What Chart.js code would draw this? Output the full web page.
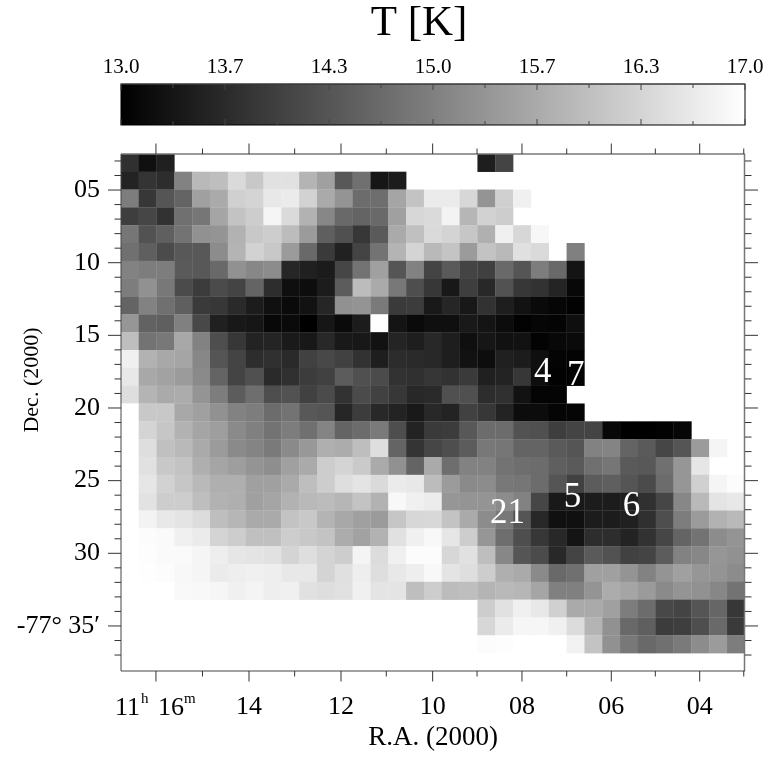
<!DOCTYPE html>
<html>
<head>
<meta charset="utf-8">
<script src="https://cdn.jsdelivr.net/npm/chart.js@4"></script>
<style>
  html, body { margin: 0; background: #fff; }
  canvas { position: absolute; left: 0; top: 0; }
</style>
</head>
<body>
<canvas id="map" width="767" height="757"></canvas>
<canvas id="cbar" width="767" height="135"></canvas>
<script>
const _ = null;
// temperature per cell in K, top row first, columns run left to right
const row00 = [13.75,13.25,13.50,_,_,_,_,_,_,_,_,_,_,_,_,_,_,_,_,_,13.47,14.07];
const row01 = [13.55,13.82,13.71,15.04,15.90,15.98,16.42,16.14,16.53,16.53,15.82,15.51,14.38,14.76,13.35,13.44];
const row02 = [14.96,13.86,14.33,14.57,15.51,15.67,16.26,16.33,16.64,16.69,16.29,15.67,15.32,14.69,14.73,15.59,16.06,16.69,16.69,16.37,15.32,16.26,16.76];
const row03 = [13.97,14.10,13.78,14.76,14.85,15.59,16.06,16.22,16.84,16.42,15.79,15.12,14.65,14.57,14.65,15.51,16.37,16.42,16.81,15.85,16.29,16.22];
const row04 = [14.85,14.29,14.49,14.80,15.27,15.32,15.79,16.14,16.22,15.95,15.43,14.49,14.25,13.86,14.41,15.67,16.01,16.42,16.33,16.11,15.76,16.76,16.37,16.87];
const row05 = [14.76,14.49,14.18,14.38,14.38,15.20,15.82,16.29,16.14,15.43,14.65,13.91,13.52,14.07,14.80,15.82,16.33,15.90,16.07,15.43,16.06,15.90,16.51,16.42,_,15.01];
const row06 = [15.04,14.96,14.96,14.41,14.38,14.65,15.27,15.12,15.20,13.60,13.50,13.42,14.10,14.80,15.51,14.33,15.04,14.07,14.41,14.07,14.00,14.65,14.33,14.96,14.65,13.31];
const row07 = [14.96,15.27,14.88,14.18,13.94,14.18,14.07,14.57,13.71,13.24,13.20,13.44,14.44,15.95,15.67,14.88,14.22,13.86,13.38,13.97,13.63,14.29,13.86,13.78,13.56,13.13];
const row08 = [14.57,15.04,14.76,14.49,13.91,13.86,13.66,13.44,13.25,13.16,13.28,13.60,15.27,15.32,14.91,13.91,13.94,13.39,13.60,13.38,13.78,13.47,13.28,13.16,13.09,13.03];
const row09 = [15.35,14.54,14.49,15.01,14.13,13.50,13.38,13.35,13.13,13.16,13.00,13.35,13.16,13.44,17.00,13.31,13.16,13.24,13.24,13.39,13.31,13.19,13.03,13.09,13.06,13.24];
const row10 = [15.98,14.80,14.88,15.64,15.04,14.22,13.86,13.55,13.56,13.41,13.38,13.63,13.39,13.38,13.28,13.56,13.47,13.63,13.47,13.24,13.35,13.27,13.28,13.05,13.13,13.16];
const row11 = [16.76,15.79,15.64,15.59,15.12,14.33,14.07,13.71,13.75,13.66,14.02,14.13,14.02,13.78,13.47,13.69,13.66,13.63,13.47,13.28,13.20,13.50,13.44,13.24,13.06,13.05];
const row12 = [16.64,15.64,15.54,15.43,15.16,14.57,14.07,14.25,13.66,13.75,13.94,14.02,14.44,14.25,14.18,13.78,13.75,13.85,13.78,13.91,13.50,13.55,13.86,13.22,13.03,13.03];
const row13 = [16.48,15.82,15.67,15.70,15.32,14.96,14.44,14.73,14.22,14.29,14.02,14.18,13.78,14.18,14.02,13.86,13.63,13.66,14.25,14.25,13.71,13.75,13.28,13.06,13.06];
const row14 = [17.00,16.14,16.14,15.64,15.51,15.27,15.04,14.96,14.69,14.80,14.38,14.33,13.60,13.94,13.63,13.55,13.39,13.63,13.55,14.02,13.86,13.55,13.19,13.19,13.08,13.08];
const row15 = [17.00,16.33,16.11,15.79,15.59,15.48,15.16,15.01,14.80,14.96,14.76,15.07,14.57,14.69,14.91,14.22,13.55,13.91,13.94,14.38,14.69,14.69,14.29,14.25,13.97,14.07,14.07,13.13,13.00,13.00,13.03,13.09];
const row16 = [17.00,16.48,16.01,15.90,15.67,15.43,15.16,15.07,14.91,15.16,15.38,15.75,15.70,15.98,16.48,14.57,13.82,14.10,14.22,14.44,14.88,14.85,14.57,14.57,14.41,14.33,15.04,15.07,14.57,14.41,14.10,14.33,15.43,16.84];
const row17 = [17.00,16.53,16.14,16.06,15.75,15.59,15.48,15.32,15.23,15.51,15.67,16.22,16.33,16.17,15.67,15.27,14.57,15.67,14.73,15.04,15.04,14.80,14.73,14.69,14.49,14.41,14.76,14.85,14.41,14.38,14.76,15.35,16.61];
const row18 = [17.00,16.61,16.29,16.11,15.90,15.75,15.75,15.51,15.51,15.67,15.98,16.22,16.48,16.58,16.42,16.69,16.64,15.95,15.43,15.16,15.20,14.88,14.85,14.69,14.33,14.02,14.44,14.49,14.33,14.18,14.69,15.35,16.26,16.84,16.95];
const row19 = [17.00,16.55,16.22,16.22,15.98,15.79,15.75,15.51,15.59,15.79,15.90,15.95,15.85,16.06,15.79,16.89,16.76,16.70,15.35,15.32,15.32,15.20,15.04,14.10,13.39,13.39,13.44,13.44,13.47,13.75,14.10,15.12,15.90,16.58,16.64];
const row20 = [17.00,16.81,16.64,16.58,16.45,15.98,15.85,15.67,15.67,16.06,16.14,15.82,15.64,15.51,15.43,16.11,16.37,16.39,16.06,15.67,15.20,14.88,14.33,13.63,13.25,13.25,13.44,13.44,13.50,13.75,14.22,14.96,15.43,15.79,15.90];
const row21 = [17.00,16.95,16.92,16.76,16.69,16.33,16.22,16.01,16.01,16.22,16.14,16.06,15.70,15.54,15.79,16.53,16.76,16.89,16.61,16.22,15.35,14.73,14.22,13.86,13.63,13.31,13.71,13.71,13.55,13.78,14.10,14.57,14.80,15.20,15.32];
const row22 = [17.00,16.97,16.92,16.92,16.84,16.73,16.61,16.58,16.53,16.33,16.48,16.33,16.22,16.83,16.45,16.76,16.95,16.95,16.37,16.53,15.98,15.12,14.33,14.18,13.63,14.07,14.41,14.29,14.02,14.07,14.44,15.04,15.12,15.35,15.27];
const row23 = [17.00,16.98,16.95,16.89,16.84,16.69,16.73,16.76,16.73,16.64,16.64,16.33,16.51,16.73,16.48,16.64,16.73,16.89,16.58,16.48,16.22,15.75,15.67,15.16,14.65,14.76,15.51,15.51,15.32,15.04,15.32,15.51,15.35,15.32,15.20];
const row24 = [17.00,17.00,17.00,16.91,16.89,16.86,16.76,16.83,16.73,16.76,16.53,16.48,16.53,16.76,16.58,16.58,15.98,16.22,15.95,15.98,15.82,15.90,15.85,15.59,15.01,15.01,15.32,15.70,15.59,15.43,15.16,15.32,15.27,15.12,14.80];
const row25 = [_,_,_,_,_,_,_,_,_,_,_,_,_,_,_,_,_,_,_,_,16.22,16.53,16.76,16.64,16.26,15.67,15.67,15.51,14.96,14.69,14.13,14.07,14.33,14.60,13.86];
const row26 = [_,_,_,_,_,_,_,_,_,_,_,_,_,_,_,_,_,_,_,_,16.37,16.69,16.86,16.86,16.76,16.45,15.82,15.27,14.65,14.49,13.94,13.97,14.22,14.65,13.91];
const row27 = [_,_,_,_,_,_,_,_,_,_,_,_,_,_,_,_,_,_,_,_,16.95,16.97,17.00,17.00,17.00,16.80,16.06,15.27,14.88,14.65,14.76,14.91,15.20,15.43,14.96];
const rows = [row00,row01,row02,row03,row04,row05,row06,row07,row08,row09,row10,row11,row12,row13,row14,row15,row16,row17,row18,row19,row20,row21,row22,row23,row24,row25,row26,row27];

// axis ticks. RA is slightly non linear on the sky so ticks sit in column units
const raMajorCols = [1.96, 7.18, 12.34, 17.48, 22.49, 27.50, 32.46];
const raMinorCols = [4.57, 9.74, 14.88, 19.97, 25.00, 29.97, 34.93];
const raLabels = ['', '14', '12', '10', '08', '06', '04'];
const decMajor = [5, 10, 15, 20, 25, 30, 35];
const decLabels = ['05', '10', '15', '20', '25', '30', '-77° 35′'];
const decMinor = [3, 4, 6, 7, 8, 9, 11, 12, 13, 14, 16, 17, 18, 19, 21, 22, 23, 24, 26, 27, 28, 29, 31, 32, 33, 34, 36, 37];
const cbarMajor = [13, 13 + 2 / 3, 14 + 1 / 3, 15, 15 + 2 / 3, 16 + 1 / 3, 17];
const cbarLabels = ['13.0', '13.7', '14.3', '15.0', '15.7', '16.3', '17.0'];
const cbarMinor = [13 + 1 / 3, 14, 14 + 2 / 3, 15 + 1 / 3, 16, 16 + 2 / 3];
// source numbers written on the map: label, column, dec
const srcLabels = ['4', '7', '21', '5', '6'];
const srcCols = [23.65, 25.5, 21.68, 25.32, 28.63];
const srcDecs = [17.6, 17.8, 27.3, 26.2, 26.8];

const DEC_TOP = 2.52, DEC_BOTTOM = 38.1, DEC_PER_ROW = 1.2271;
const serif = '"Liberation Serif"';

function shade(t) {
  const g = Math.round((t - 13) / 4 * 255);
  return 'rgb(' + g + ',' + g + ',' + g + ')';
}

const cells = [];
rows.forEach(function (row, r) {
  row.forEach(function (t, c) {
    if (t !== null) cells.push({ x: c + 0.5, y: DEC_TOP + (r + 0.5) * DEC_PER_ROW, t: t });
  });
});

function tick(ctx, x1, y1, x2, y2) {
  ctx.beginPath();
  ctx.moveTo(x1, y1);
  ctx.lineTo(x2, y2);
  ctx.stroke();
}

const mapFrame = {
  id: 'mapFrame',
  afterDraw(chart) {
    const ctx = chart.ctx, a = chart.chartArea, sx = chart.scales.x, sy = chart.scales.y;
    ctx.save();
    // spines
    ctx.strokeStyle = '#777';
    ctx.lineWidth = 1.5;
    tick(ctx, a.left, a.top, a.right, a.top);
    tick(ctx, a.right - 0.5, a.top, a.right - 0.5, a.bottom);
    ctx.strokeStyle = '#444';
    ctx.lineWidth = 1;
    tick(ctx, a.left, a.top, a.left, a.bottom);
    tick(ctx, a.left, a.bottom, a.right, a.bottom);
    // ticks on all four sides
    ctx.strokeStyle = '#333';
    function xTicks(list, len) {
      list.forEach(function (v) {
        const p = sx.getPixelForValue(v);
        tick(ctx, p, a.top, p, a.top - len);
        tick(ctx, p, a.bottom, p, a.bottom + len);
      });
    }
    function yTicks(list, len) {
      list.forEach(function (v) {
        const p = sy.getPixelForValue(v);
        tick(ctx, a.left, p, a.left - len, p);
        tick(ctx, a.right, p, a.right + len, p);
      });
    }
    xTicks(raMajorCols, 10.5);
    xTicks(raMinorCols, 5.5);
    yTicks(decMajor, 13);
    yTicks(decMinor, 6.5);
    // numbers on the map
    ctx.fillStyle = '#fff';
    ctx.font = '35px ' + serif;
    ctx.textAlign = 'center';
    ctx.textBaseline = 'middle';
    srcLabels.forEach(function (s, i) {
      ctx.fillText(s, sx.getPixelForValue(srcCols[i]), sy.getPixelForValue(srcDecs[i]));
    });
    // first RA label has superscripts
    ctx.fillStyle = '#000';
    ctx.textAlign = 'left';
    ctx.textBaseline = 'alphabetic';
    ctx.font = '26px ' + serif;
    ctx.fillText('11', 115, 715);
    ctx.fillText('16', 158, 715);
    ctx.font = '15px ' + serif;
    ctx.fillText('h', 141, 703);
    ctx.fillText('m', 184, 703);
    // axis titles
    ctx.font = '27px ' + serif;
    ctx.textAlign = 'center';
    ctx.fillText('R.A. (2000)', 433, 745);
    ctx.translate(38, 380);
    ctx.rotate(-Math.PI / 2);
    ctx.font = '22px ' + serif;
    ctx.fillText('Dec. (2000)', 0, 0);
    ctx.restore();
  }
};

new Chart('map', {
  type: 'scatter',
  data: {
    datasets: [{
      data: cells,
      pointStyle: 'rect',
      borderWidth: 0,
      pointBorderWidth: 0,
      pointRadius: function (c) {
        const sx = c.chart.scales.x;
        return (sx.getPixelForValue(1) - sx.getPixelForValue(0)) / Math.SQRT2 + 0.2;
      },
      backgroundColor: function (c) { return c.raw ? shade(c.raw.t) : '#000'; }
    }]
  },
  plugins: [mapFrame],
  options: {
    responsive: false,
    animation: false,
    layout: { padding: { left: 0, right: 22, top: 154, bottom: 0 } },
    plugins: { legend: { display: false }, tooltip: { enabled: false } },
    scales: {
      x: {
        type: 'linear', min: 0, max: 35,
        afterFit: function (s) { s.height = 86; },
        afterBuildTicks: function (s) { s.ticks = raMajorCols.map(function (v) { return { value: v }; }); },
        grid: { display: false }, border: { display: false },
        ticks: {
          autoSkip: false, maxRotation: 0, padding: 13, color: '#000',
          font: { family: serif, size: 26 },
          callback: function (v, i) { return raLabels[i]; }
        }
      },
      y: {
        type: 'linear', reverse: true, min: DEC_TOP, max: DEC_BOTTOM,
        afterFit: function (s) { s.width = 121; },
        afterBuildTicks: function (s) { s.ticks = decMajor.map(function (v) { return { value: v }; }); },
        grid: { display: false }, border: { display: false },
        ticks: {
          autoSkip: false, padding: 13, color: '#000',
          font: { family: serif, size: 26 },
          callback: function (v, i) { return decLabels[i]; }
        }
      }
    }
  }
});

const cbarFrame = {
  id: 'cbarFrame',
  afterDraw(chart) {
    const ctx = chart.ctx, a = chart.chartArea, sx = chart.scales.x;
    ctx.save();
    ctx.strokeStyle = '#000';
    ctx.lineWidth = 1;
    ctx.strokeRect(a.left, a.top, a.right - a.left, a.bottom - a.top);
    ctx.strokeStyle = '#555';
    tick(ctx, a.left, a.top, a.right, a.top);
    function ticks(list, len) {
      list.forEach(function (v) {
        const p = sx.getPixelForValue(v);
        tick(ctx, p, a.top, p, a.top + len);
        tick(ctx, p, a.bottom, p, a.bottom - len);
      });
    }
    ctx.strokeStyle = '#444';
    ticks(cbarMajor, 6);
    ticks(cbarMinor, 4);
    ctx.fillStyle = '#000';
    ctx.font = '43px ' + serif;
    ctx.textAlign = 'center';
    ctx.textBaseline = 'alphabetic';
    ctx.fillText('T [K]', 419, 34.5);
    ctx.restore();
  }
};

const cbar_ctx = document.getElementById('cbar').getContext('2d');
const cbar_fill = cbar_ctx.createLinearGradient(121, 0, 745, 0);
cbar_fill.addColorStop(0, '#000');
cbar_fill.addColorStop(1, '#fff');

new Chart('cbar', {
  type: 'bar',
  data: {
    labels: [''],
    datasets: [{
      data: [[13, 17]],
      backgroundColor: cbar_fill,
      barPercentage: 1,
      categoryPercentage: 1
    }]
  },
  plugins: [cbarFrame],
  options: {
    indexAxis: 'y',
    responsive: false,
    animation: false,
    layout: { padding: { left: 121, right: 22, top: 0, bottom: 10 } },
    plugins: { legend: { display: false }, tooltip: { enabled: false } },
    scales: {
      x: {
        type: 'linear', position: 'top', min: 13, max: 17,
        afterFit: function (s) { s.height = 84; },
        afterBuildTicks: function (s) { s.ticks = cbarMajor.map(function (v) { return { value: v }; }); },
        grid: { display: false }, border: { display: false },
        ticks: {
          autoSkip: false, maxRotation: 0, padding: -4, color: '#000',
          font: { family: serif, size: 21 },
          callback: function (v, i) { return cbarLabels[i]; }
        }
      },
      y: { display: false }
    }
  }
});
</script>
</body>
</html>
